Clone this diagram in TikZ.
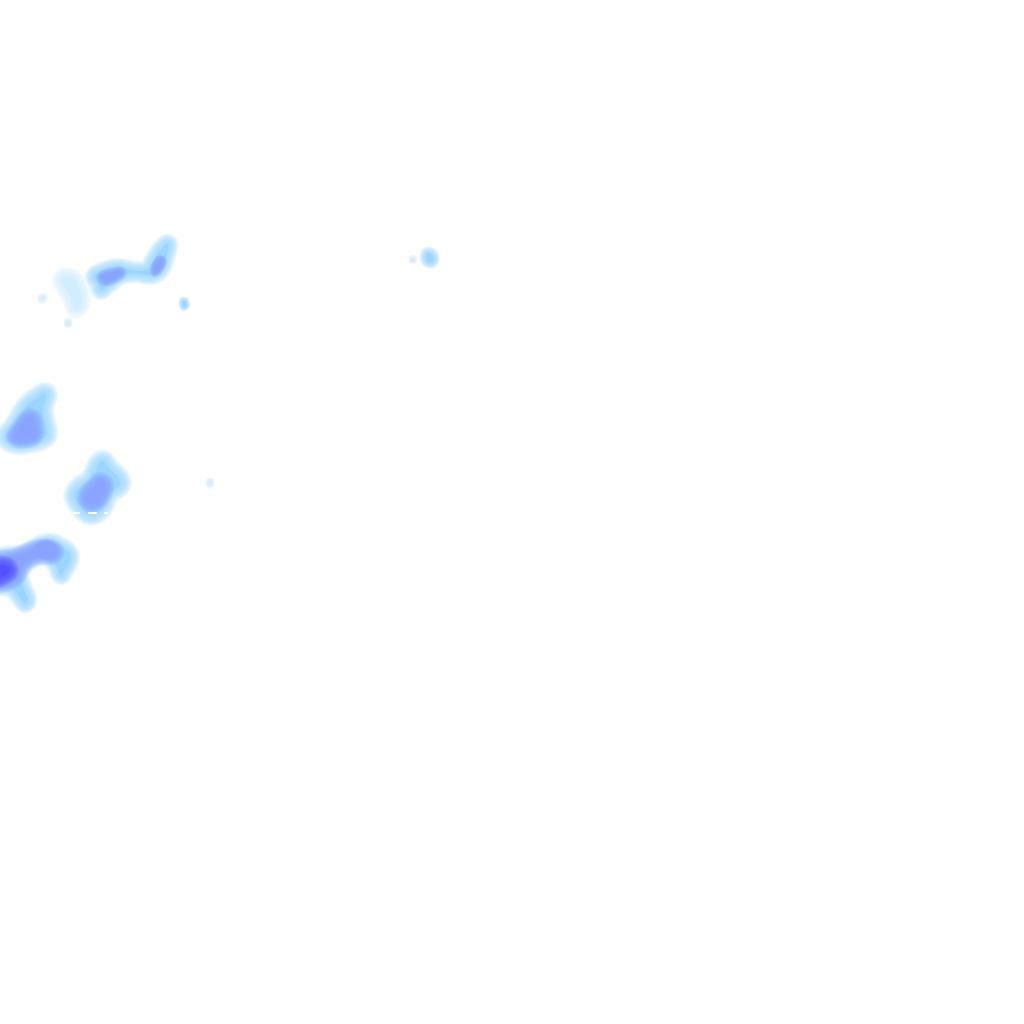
\documentclass[tikz,border=0pt]{standalone}
\definecolor{paleblue}{RGB}{208,236,255}
\definecolor{skyblue}{RGB}{150,212,255}
\definecolor{midblue}{RGB}{135,160,255}
\definecolor{deepblue}{RGB}{80,75,255}
% soft edge: same outline stroked many times, widest first
\newcommand{\softblob}[3]{%
    \foreach \s in {1,0.96,...,0} {
        \pgfmathsetmacro{\lw}{\s*#2}
        \path[draw=#1, fill=#1, line width=\lw pt, line join=round, opacity=0.07]
            plot[smooth cycle, tension=0.7] coordinates {#3};
    }
}
\begin{document}
\begin{tikzpicture}[x=0.01cm, y=-0.01cm]
    \useasboundingbox (0,0) rectangle (1024,1024);
    \clip (0,0) rectangle (1024,1024);

    % Top band
    \softblob{paleblue}{6}{(62,279) (71,278) (78,288) (81,300) (78,307) (75,308) (73,300) (66,288)}
    \softblob{skyblue}{6}{(95,276) (105,271) (118,268) (134,271) (147,270) (153,262) (160,251) (168,244) (165,258) (160,270) (150,275) (138,273) (122,275) (108,284) (101,290) (99,282)}
    \softblob{midblue}{4}{(103,277) (112,274) (120,273) (112,278) (106,280)}
    \softblob{midblue}{3}{(156,266) (160,260) (162,262) (159,268) (155,272)}

    % Left blob
    \softblob{skyblue}{7}{(35,400) (46,394) (42,410) (46,430) (44,437) (30,442) (16,443) (7,437) (15,426) (26,408)}
    \softblob{midblue}{6}{(30,418) (34,428) (32,437) (17,438) (19,431)}

    % Middle blob
    \softblob{skyblue}{7}{(101,462) (108,468) (120,483) (108,493) (101,508) (90,514) (80,505) (75,495) (81,487) (91,480)}
    \softblob{midblue}{6}{(101,482) (104,488) (98,500) (89,502) (88,495) (94,488)}

    % Bottom blob
    \softblob{skyblue}{6}{(-6,560) (25,553) (45,543) (59,546) (70,556) (63,572) (60,574) (56,564) (46,556) (30,560) (20,572) (22,586) (27,598) (26,603) (23,601) (12,588) (-6,583)}
    \softblob{midblue}{6}{(-6,563) (15,558) (38,549) (53,550) (51,555) (36,555) (22,564) (14,578) (-6,582)}
    \softblob{deepblue}{6}{(-6,568) (4,566) (9,570) (4,575) (-6,578)}
    \softblob{midblue}{5}{(43,548) (49,548) (49,551) (43,551)}

    % Small specks
    \softblob{skyblue}{4}{(427,254) (431,254) (433,259) (431,262) (427,260)}
    \softblob{skyblue}{2.5}{(183,301) (185,301) (186,305) (184,307) (183,305)}
    \softblob{paleblue}{2.5}{(41,298) (44,297) (44,299) (41,300)}
    \softblob{paleblue}{2}{(67,321) (69,321) (69,325) (67,325)}
    \softblob{paleblue}{2}{(209,481) (211,481) (211,485) (209,485)}
    \softblob{paleblue}{2}{(412,258) (414,258) (414,261) (412,261)}

    % White ticks across the middle blob
    \foreach \a/\b in {73/80, 88/97, 104/108} {
        \draw[white, line width=0.5pt] (\a,513) -- (\b,513);
    }
\end{tikzpicture}
\end{document}
